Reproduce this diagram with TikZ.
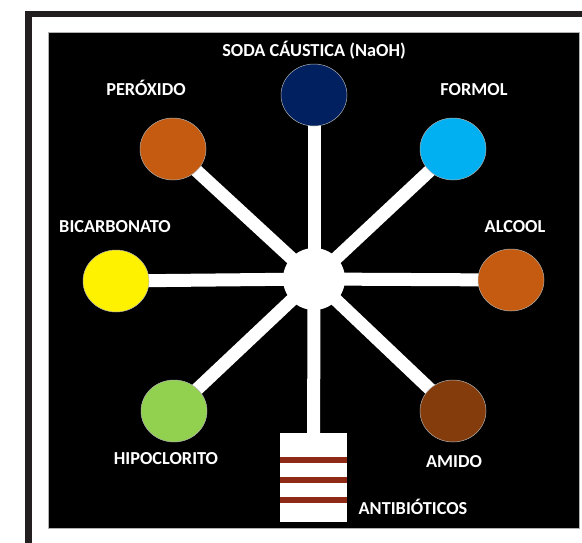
\documentclass[tikz,border=0pt]{standalone}
\usepackage{fontspec}
\setmainfont{Carlito}
\usetikzlibrary{positioning}
\usetikzlibrary{shapes.geometric,backgrounds}
\definecolor{framegray}{HTML}{231F20}
\definecolor{sodablue}{HTML}{002060}
\definecolor{formolblue}{HTML}{00B0F0}
\definecolor{orangebrown}{HTML}{C55A11}
\definecolor{amidobrown}{HTML}{843C0C}
\definecolor{hipogreen}{HTML}{92D050}
\definecolor{stripered}{HTML}{8E2A15}
\tikzset{dot/.style={ellipse,draw=white!70!black,line width=0.5pt,
minimum width=66pt,minimum height=62pt,inner sep=0pt}}
\tikzset{hubdot/.style={circle,fill=white,draw=none,minimum size=62pt,inner sep=0pt}}
\tikzset{spoke/.style={draw=white,line width=13pt}}
\tikzset{lbl/.style={text=white,font=\bfseries\fontsize{18.3}{21}\selectfont,
anchor=base,inner sep=0pt}}
\tikzset{bottle/.style={rectangle,fill=white,draw=none,inner sep=0pt,
minimum width=67pt,minimum height=89pt}}

\begin{document}
\begin{tikzpicture}[x=1pt,y=-1pt]
    \useasboundingbox (0,0) rectangle (582,542);

        \node[hubdot] (hub) at (314,279) {};

        \node[dot,fill=sodablue] (soda) at (314,95) {};
        \node[dot,fill=formolblue] (formol) at (453,149) {};
        \node[dot,fill=orangebrown] (peroxido) at (173,149) {};
        \node[dot,fill=yellow] (bicarb) at (116,281) {};
        \node[dot,fill=orangebrown] (alcool) at (511,280) {};
        \node[dot,fill=hipogreen] (hipo) at (174,411) {};
        \node[dot,fill=amidobrown] (amido) at (453,411) {};
        \node[bottle] (antib) at (313.5,477.5) {};

        \foreach \d in {24,44,64}
            \fill[stripered] ([yshift=-\d pt]antib.north west) rectangle ([yshift={-(\d+6.5)*1pt}]antib.north east);

        \node[lbl] (sodalbl) at (314,56) {SODA CÁUSTICA (NaOH)};
        \node[lbl] (peroxidolbl) at (146,95) {PERÓXIDO};
        \node[lbl] (formollbl) at (474,95) {FORMOL};
        \node[lbl] (bicarblbl) at (115,232) {BICARBONATO};
        \node[lbl] (alcoollbl) at (515,232) {ALCOOL};
        \node[lbl] (hipolbl) at (166,464) {HIPOCLORITO};
        \node[lbl] (amidolbl) at (454,467) {AMIDO};
        \node[lbl] (antiblbl) at (413,514) {ANTIBIÓTICOS};

    \begin{scope}[on background layer]
        \clip (0,0) rectangle (582,542);
        \draw[framegray,line width=6.5pt] (28.5,14) rectangle (600,560);
        \fill[black] (48,32) rectangle (579,528);
        \draw[gray!60,line width=0.6pt] (48,32) rectangle (579,528);

        \foreach \t in {soda,formol,peroxido,bicarb,alcool,hipo,amido,antib}
            \draw[spoke] (hub.center) -- (\t.center);
    \end{scope}

\end{tikzpicture}
\end{document}
